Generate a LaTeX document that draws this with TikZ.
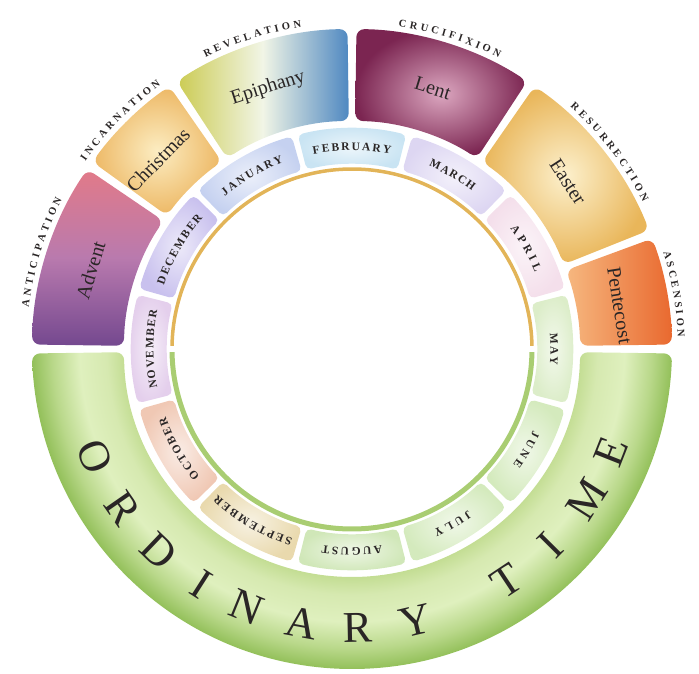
\documentclass[tikz,border=0pt]{standalone}
\usepackage{fontspec}
\setmainfont{Liberation Serif}
\usetikzlibrary{decorations.text}

\definecolor{ink}{HTML}{2A2626}
\definecolor{advTop}{HTML}{E27A88}
\definecolor{advMid}{HTML}{B97AAE}
\definecolor{advBot}{HTML}{74488F}
\definecolor{chrIn}{HTML}{FCEDC2}
\definecolor{chrOut}{HTML}{EDB865}
\definecolor{epiL}{HTML}{CBCB52}
\definecolor{epiM}{HTML}{F1F5E6}
\definecolor{epiR}{HTML}{4F88C1}
\definecolor{lentIn}{HTML}{DCA7C0}
\definecolor{lentOut}{HTML}{7B2551}
\definecolor{eastIn}{HTML}{FCF0CC}
\definecolor{eastOut}{HTML}{E9B65A}
\definecolor{pentL}{HTML}{F6B880}
\definecolor{pentR}{HTML}{E9692F}
\definecolor{mJan}{HTML}{C5D1F0}
\definecolor{mFeb}{HTML}{C9E4F3}
\definecolor{mMar}{HTML}{DDD6F2}
\definecolor{mApr}{HTML}{F4DFEB}
\definecolor{mMay}{HTML}{DCEDC9}
\definecolor{mJun}{HTML}{D4EABD}
\definecolor{mJul}{HTML}{D4EABD}
\definecolor{mAug}{HTML}{D0E7B8}
\definecolor{mSep}{HTML}{E9D9AD}
\definecolor{mOct}{HTML}{F0C8B4}
\definecolor{mNov}{HTML}{E4CFEC}
\definecolor{mDec}{HTML}{C9C1EE}
\definecolor{ringGold}{HTML}{E2B458}
\definecolor{ringGreen}{HTML}{A9CD72}
\definecolor{ogA}{HTML}{C3DD93}
\definecolor{ogB}{HTML}{D6E9B0}
\definecolor{ogC}{HTML}{DFF0BE}
\definecolor{ogD}{HTML}{B9D88A}
\definecolor{ogE}{HTML}{93C05A}

\pgfdeclareradialshading{ordshade}{\pgfpoint{0bp}{0bp}}{%
  color(0bp)=(ogA); color(17.8bp)=(ogA); color(19.2bp)=(ogB);
  color(21.3bp)=(ogC); color(23.4bp)=(ogD); color(25bp)=(ogE); color(50bp)=(ogE)}

\newcommand{\sectorshape}[5]{%
  \path[#5] (#1:#3) arc[start angle=#1, end angle=#2, radius=#3]
    -- (#2:#4) arc[start angle=#2, end angle=#1, radius=#4] -- cycle;}

\newcommand{\monthfont}{\fontsize{11.5}{13}\selectfont\bfseries\color{ink}}
\newcommand{\themefont}{\fontsize{10.5}{12}\selectfont\bfseries\color{ink}}

\newcommand{\arctext}[5]{%
  \path[decorate, decoration={text along path, text align={fit to path},
    text={|#4|#5}}] ({#1+#2}:#3) arc[start angle={#1+#2}, end angle={#1-#2}, radius=#3];}

\tikzset{
  season/.style={rounded corners=8pt},
  monthbox/.style={rounded corners=5pt},
  seasonname/.style={font=\fontsize{20}{24}\selectfont, text=ink, inner sep=0pt},
  ordletter/.style={font=\fontsize{44}{50}\selectfont, text=ink, inner sep=0pt},
}

\begin{document}
\begin{tikzpicture}[x=1pt,y=1pt]
\useasboundingbox (-352,-324) rectangle (347,349);

% ---------- Ordinary Time band ----------
\begin{scope}
  \clip[rounded corners=8pt] (359.2:320) arc[start angle=359.2, end angle=180.8, radius=320]
     -- (180.8:228) arc[start angle=180.8, end angle=359.2, radius=228] -- cycle;
  \shade[shading=ordshade] (0,0) circle (320);
\end{scope}

% ---------- seasons ----------
\sectorshape{179.2}{145.8}{320}{228}{season, top color=advTop, bottom color=advBot, middle color=advMid}
\sectorshape{144.2}{124.8}{320}{228}{season, inner color=chrIn, outer color=chrOut}
\sectorshape{123.2}{90.8}{320}{228}{season, left color=epiL, right color=epiR, middle color=epiM}
\sectorshape{89.2}{56.8}{320}{228}{season, inner color=lentIn, outer color=lentOut}
\sectorshape{55.2}{21.8}{320}{228}{season, inner color=eastIn, outer color=eastOut}
\sectorshape{20.2}{0.8}{320}{228}{season, left color=pentL, right color=pentR}

% ---------- season names ----------
\node[seasonname, rotate=73]    (advent)    at (163.2:273) {Advent};
\node[seasonname, rotate=45.7]  (christmas) at (135.7:271) {Christmas};
\node[seasonname, rotate=17.8]  (epiphany)  at (107.8:274) {Epiphany};
\node[seasonname, rotate=-17.2] (lent)      at (72.8:273)  {Lent};
\node[seasonname, rotate=-57]   (easter)    at (37.7:273)  {Easter};
\node[seasonname, rotate=-81]   (pentecost) at (9.2:271)   {Pentecost};

% ---------- theme labels ----------
\arctext{162.7}{9.9}{326}{\themefont}{ANTICIPATION}
\arctext{135.4}{9.5}{326}{\themefont}{INCARNATION}
\arctext{107.8}{8.9}{326}{\themefont}{REVELATION}
\arctext{72.5}{9.3}{326}{\themefont}{CRUCIFIXION}
\arctext{37.4}{10.6}{326}{\themefont}{RESURRECTION}
\arctext{9.7}{7.6}{326}{\themefont}{ASCENSION}

% ---------- month boxes ----------
\foreach \c/\col in {120/mJan, 90/mFeb, 60/mMar, 30/mApr, 0/mMay, -30/mJun,
                     -60/mJul, -90/mAug, -120/mSep, -150/mOct, -180/mNov, -210/mDec}{
  \pgfmathsetmacro{\ma}{\c+14.2}
  \pgfmathsetmacro{\mb}{\c-14.2}
  \sectorshape{\ma}{\mb}{221}{185}{monthbox, inner color=\col!35!white, outer color=\col}
}

% ---------- month names ----------
\arctext{120}{9.8}{198.5}{\monthfont}{JANUARY}
\arctext{90}{11.2}{198.5}{\monthfont}{FEBRUARY}
\arctext{60}{7.2}{198.5}{\monthfont}{MARCH}
\arctext{30}{7.2}{198.5}{\monthfont}{APRIL}
\arctext{0}{4.6}{198.5}{\monthfont}{MAY}
\arctext{-30}{5.8}{198.5}{\monthfont}{JUNE}
\arctext{-60}{5.8}{198.5}{\monthfont}{JULY}
\arctext{-90}{8.6}{198.5}{\monthfont}{AUGUST}
\arctext{-120}{12.6}{198.5}{\monthfont}{SEPTEMBER}
\arctext{-150}{9.9}{198.5}{\monthfont}{OCTOBER}
\arctext{-180}{11.3}{198.5}{\monthfont}{NOVEMBER}
\arctext{-210}{11.3}{198.5}{\monthfont}{DECEMBER}

% ---------- inner circle ----------
\draw[ringGold, line width=3.5pt] (1:180) arc[start angle=1, end angle=179, radius=180];
\draw[ringGreen, line width=5pt] (181:180) arc[start angle=181, end angle=359, radius=180];

% ---------- ORDINARY TIME ----------
\foreach \L/\t [count=\k] in {O/202.7, R/214.8, D/226.3, I/237.4, N/247.8, A/259.6,
                              R/271.2, Y/283.2, T/303.6, I/315.2, M/327.4, E/338.4}{
  \node[ordletter, rotate=\t+90] (ot\k) at (\t:279) {\L};
}
\end{tikzpicture}
\end{document}
